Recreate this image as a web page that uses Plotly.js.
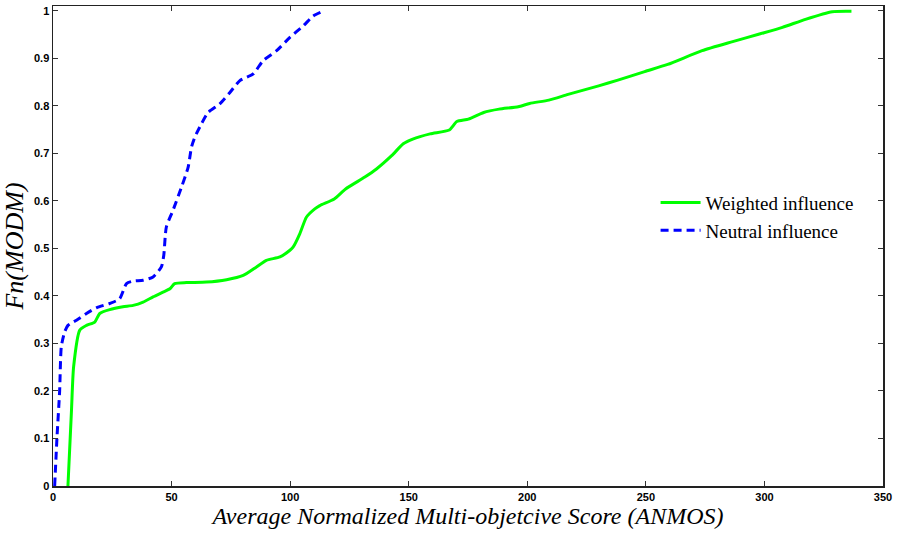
<!DOCTYPE html>
<html>
<head>
<meta charset="utf-8">
<script src="https://cdn.plot.ly/plotly-3.0.1.min.js"></script>
<style>
  html, body { margin: 0; padding: 0; background: #fff; }
  #chart { width: 898px; height: 535px; }
</style>
</head>
<body>
<div id="chart"></div>
<script>
// Empirical CDF of the ANMOS score under weighted influence
const weightedX = [6.3, 7.8, 8.7, 11.3, 14.1, 17.6, 19.7, 23.9, 29.5, 33.8, 38, 42.2, 46.4, 49.3, 51.3,
  56.3, 64.7, 73.2, 80.2, 85.8, 90, 95.7, 99.9, 101.3, 104.1, 106.9, 110.4, 112.5, 118.6, 123.4,
  131.5, 136.4, 142.8, 147.7, 151.7, 159, 167.1, 170.3, 175.2, 181.6, 188.1, 196.2, 201, 209.1,
  217.2, 230.1, 238.2, 249.5, 259.2, 273.7, 286.6, 297.9, 307.6, 317.3, 328.6, 336.7];
const weightedY = [0, 0.16, 0.251, 0.328, 0.338, 0.345, 0.363, 0.371, 0.377, 0.38, 0.387, 0.398, 0.408, 0.415, 0.426,
  0.428, 0.429, 0.434, 0.443, 0.461, 0.475, 0.482, 0.496, 0.503, 0.531, 0.566, 0.583, 0.59, 0.604, 0.625,
  0.65, 0.667, 0.695, 0.72, 0.73, 0.741, 0.749, 0.767, 0.772, 0.786, 0.793, 0.798, 0.805, 0.812,
  0.824, 0.842, 0.854, 0.872, 0.887, 0.916, 0.935, 0.951, 0.965, 0.982, 0.998, 0.999];

// Empirical CDF of the ANMOS score under neutral influence
const neutralX = [0.7, 1.7, 2.8, 3.5, 4.9, 6.3, 9.9, 14.1, 18.3, 23.9, 28.1, 31, 33.8, 38, 42.2, 45.7,
  46.7, 47.8, 50.6, 54.2, 57, 58.4, 59.8, 62.6, 65.4, 70.3, 74.6, 78.8, 84.4, 88.6, 94.3, 99.9,
  105.5, 109.7, 113];
const neutralY = [0, 0.104, 0.2, 0.293, 0.324, 0.338, 0.349, 0.363, 0.375, 0.384, 0.394, 0.426, 0.431, 0.433, 0.44, 0.461,
  0.485, 0.545, 0.58, 0.629, 0.671, 0.713, 0.734, 0.762, 0.786, 0.804, 0.828, 0.853, 0.867, 0.895, 0.916, 0.944,
  0.968, 0.989, 0.997];

const seriesNames = ['Weighted influence', 'Neutral influence'];
const xTicks = [0, 50, 100, 150, 200, 250, 300, 350];
const yTicks = [0, 0.1, 0.2, 0.3, 0.4, 0.5, 0.6, 0.7, 0.8, 0.9, 1];

const traces = [
  {
    x: weightedX, y: weightedY, name: seriesNames[0], type: 'scatter', mode: 'lines',
    line: { color: '#00ff00', width: 3, shape: 'spline', smoothing: 0.6 }
  },
  {
    x: neutralX, y: neutralY, name: seriesNames[1], type: 'scatter', mode: 'lines',
    line: { color: '#0000ff', width: 3, dash: '8px,5px', shape: 'spline', smoothing: 0.6 }
  }
];

const SERIF = '"Liberation Serif", "Times New Roman", serif';
const SANS = '"Liberation Sans", Arial, sans-serif';

const tickFont = { family: SANS, size: 11, color: '#000' };
const bold = v => '<b>' + v + '</b>';

const axisCommon = {
  showgrid: false, zeroline: false, showline: true, linecolor: '#222', linewidth: 1.5,
  mirror: 'ticks', ticks: 'inside', ticklen: 5, tickwidth: 1, tickcolor: '#333',
  tickfont: tickFont
};

const layout = {
  width: 898, height: 535,
  margin: { l: 53, r: 15, t: 6, b: 49 },
  paper_bgcolor: '#fff', plot_bgcolor: '#fff',
  font: { family: SERIF },
  showlegend: true,
  legend: {
    x: 0.726, y: 0.63, xanchor: 'left', yanchor: 'top',
    bgcolor: 'rgba(0,0,0,0)', borderwidth: 0, itemwidth: 40,
    font: { family: SERIF, size: 19, color: '#000' },
    tracegroupgap: 2
  },
  xaxis: Object.assign({}, axisCommon, {
    range: [0, 350], tickvals: xTicks, ticktext: xTicks.map(bold),
    title: { text: '<i>Average Normalized Multi-objetcive Score (ANMOS)</i>',
             font: { family: SERIF, size: 24, color: '#000' }, standoff: 2 }
  }),
  yaxis: Object.assign({}, axisCommon, {
    range: [0, 1.01], tickvals: yTicks, ticktext: yTicks.map(bold),
    title: { text: '<i>Fn(MODM)</i>', font: { family: SERIF, size: 26, color: '#000' }, standoff: 4 }
  })
};

Plotly.newPlot('chart', traces, layout, { displayModeBar: false, staticPlot: true });
</script>
</body>
</html>
